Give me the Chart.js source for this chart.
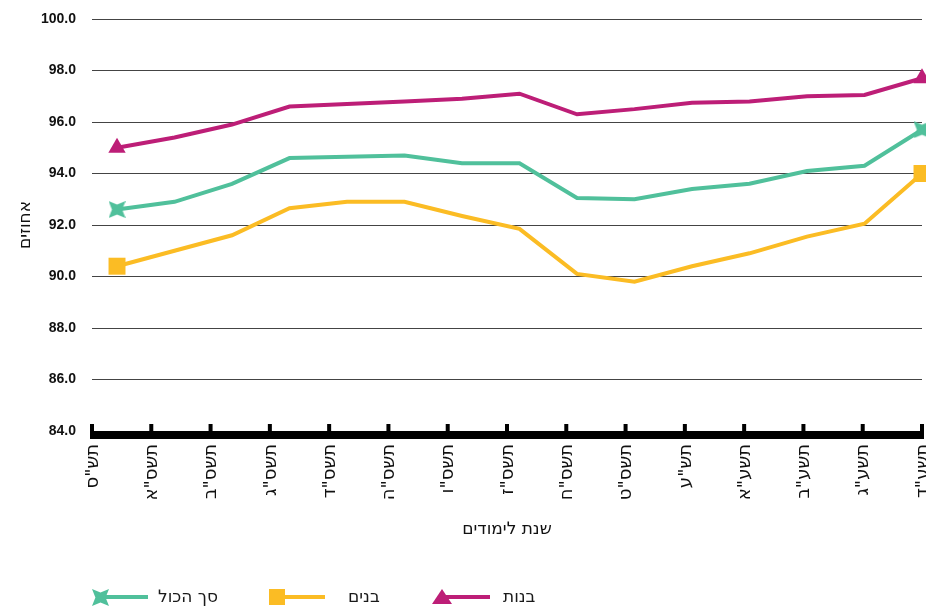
<!DOCTYPE html>
<html lang="he">
<head>
<meta charset="utf-8">
<script src="https://cdn.jsdelivr.net/npm/chart.js@4"></script>
<style>
  html, body { margin: 0; padding: 0; background: #fff; }
  #wrap { position: relative; width: 926px; height: 610px; }
  #legend { position: absolute; left: 0; top: 586px; width: 926px; height: 24px; }
  .lg-icon { position: absolute; top: 0; }
  .lg-text { position: absolute; top: 0px; font: 17px "DejaVu Sans"; color: #1a1a1a; direction: rtl; white-space: nowrap; }
</style>
</head>
<body>
<div id="wrap">
  <canvas id="myChart" width="926" height="610"></canvas>
  <div id="legend"></div>
</div>
<script>
const years = ['תש"ס', 'תשס"א', 'תשס"ב', 'תשס"ג', 'תשס"ד', 'תשס"ה', 'תשס"ו', 'תשס"ז',
               'תשס"ח', 'תשס"ט', 'תש"ע', 'תשע"א', 'תשע"ב', 'תשע"ג', 'תשע"ד'];
const girls = [95.0, 95.4, 95.9, 96.6, 96.7, 96.8, 96.9, 97.1, 96.3, 96.5, 96.75, 96.8, 97.0, 97.05, 97.7];
const total = [92.6, 92.9, 93.6, 94.6, 94.65, 94.7, 94.4, 94.4, 93.05, 93.0, 93.4, 93.6, 94.1, 94.3, 95.7];
const boys  = [90.4, 91.0, 91.6, 92.65, 92.9, 92.9, 92.35, 91.85, 90.1, 89.8, 90.4, 90.9, 91.55, 92.05, 94.0];
const seriesNames = ['בנות', 'בנים', 'סך הכול'];
const yMin = 84, yMax = 100, yStep = 2;

const PINK = '#BD1E77', YELLOW = '#FBBC24', GREEN = '#50C09B';


function makeStar(size, color) {
    const c = document.createElement('canvas');
    c.width = size; c.height = size;
    const g = c.getContext('2d');
    const h = size / 2, k = size * 0.3;
    g.fillStyle = color;
    g.beginPath();
    g.moveTo(0, 0);
    g.lineTo(h, h - k);
    g.lineTo(size, 0);
    g.lineTo(h + k, h);
    g.lineTo(size, size);
    g.lineTo(h, h + k);
    g.lineTo(0, size);
    g.lineTo(h - k, h);
    g.closePath();
    g.fill();
    return c;
}

const starImg = makeStar(17, GREEN);

function toPoints(arr) {
    return arr.map((v, i) => ({ x: i, y: v }));
}

function endMarker(r) {
    return (ctx) => (ctx.dataIndex === 0 || ctx.dataIndex === years.length - 1) ? r : 0;
}

function noPad(scale) {
    scale.paddingLeft = 0; scale.paddingRight = 0;
    scale.paddingTop = 0; scale.paddingBottom = 0;
}

const axisBar = {   // thick bottom axis with upward ticks
    id: 'axisBar',
    beforeDatasetsDraw(chart) {
        const { ctx, chartArea: { left, right, bottom }, scales: { x } } = chart;
        ctx.save();
        ctx.fillStyle = '#000';
        ctx.fillRect(left - 2, bottom, right - left + 4, 8);
        x.ticks.forEach((t, i) => {
            const px = x.getPixelForTick(i);
            ctx.fillRect(px - 2, bottom - 7, 4, 8);
        });
        ctx.restore();
    }
};

const datasets = [
    { label: seriesNames[0], data: toPoints(girls), borderColor: PINK, backgroundColor: PINK,
      pointStyle: 'triangle', pointRadius: endMarker(10) },
    { label: seriesNames[1], data: toPoints(boys), borderColor: YELLOW, backgroundColor: YELLOW,
      pointStyle: 'rect', pointRadius: endMarker(12) },
    { label: seriesNames[2], data: toPoints(total), borderColor: GREEN, backgroundColor: GREEN,
      pointStyle: starImg, pointRadius: endMarker(8) }
];
datasets.forEach(ds => {
    ds.xAxisID = 'xd';
    ds.borderWidth = 4;
    ds.tension = 0;
    ds.pointBorderWidth = 0;
    ds.clip = false;
    ds.pointHoverRadius = 0;
});

function drawChart() {
    const ctx = document.getElementById('myChart').getContext('2d');
    new Chart(ctx, {
        type: 'line',
        data: { labels: years, datasets: datasets },
        plugins: [axisBar],
        options: {
            responsive: false,
            animation: false,
            layout: { autoPadding: false, padding: { top: 19, right: 4, bottom: 70, left: 15 } },
            plugins: { legend: { display: false }, tooltip: { enabled: false } },
            scales: {
                x: {
                    type: 'category',
                    labels: years,
                    offset: false,
                    grid: { display: false, drawTicks: false },
                    border: { display: false },
                    afterFit: (scale) => { noPad(scale); scale.height = 109; },
                    ticks: {
                        autoSkip: false, minRotation: 90, maxRotation: 90, padding: 13, labelOffset: 1,
                        color: '#111', font: { family: 'DejaVu Sans', size: 18 }
                    },
                    title: {
                        display: true, text: 'שנת לימודים', color: '#111',
                        font: { family: 'DejaVu Sans', size: 17 }, padding: { top: 6, bottom: 0 }
                    }
                },
                xd: { type: 'linear', display: false, min: -0.435, max: years.length - 1, afterFit: noPad },
                y: {
                    min: yMin, max: yMax,
                    grid: { color: '#444', lineWidth: 1, drawTicks: false },
                    border: { display: false },
                    afterFit: (scale) => { noPad(scale); scale.width = 77; },
                    ticks: {
                        stepSize: yStep, padding: 16, color: '#111',
                        font: { family: 'Liberation Sans', size: 14, weight: 'bold' },
                        callback: (v) => Number(v).toFixed(1)
                    },
                    title: {
                        display: true, text: 'אחוזים', color: '#111',
                        font: { family: 'DejaVu Sans', size: 17 }, padding: { top: 0, bottom: 6 }
                    }
                }
            }
        }
    });
}


function drawLegend() {
    const legend = document.getElementById('legend');
    const iconLeft = [425, 260, 83];
    const textLeft = [503, 348, 158];
    datasets.forEach((ds, i) => {
        const c = document.createElement('canvas');
        c.width = 68; c.height = 22;
        c.className = 'lg-icon';
        c.style.left = iconLeft[i] + 'px';
        const g = c.getContext('2d');
        const mx = 17, my = 11;
        g.strokeStyle = ds.borderColor;
        g.lineWidth = 4;
        g.beginPath(); g.moveTo(mx, my); g.lineTo(65, my); g.stroke();
        g.fillStyle = ds.borderColor;
        if (ds.pointStyle === 'triangle') {
            g.beginPath(); g.moveTo(mx, my - 8); g.lineTo(mx + 10, my + 7); g.lineTo(mx - 10, my + 7); g.closePath(); g.fill();
        } else if (ds.pointStyle === 'rect') {
            g.fillRect(mx - 8, my - 8, 16, 16);
        } else {
            g.drawImage(ds.pointStyle, mx - 8, my - 8);
        }
        legend.appendChild(c);
        const s = document.createElement('span');
        s.className = 'lg-text';
        s.style.left = textLeft[i] + 'px';
        s.textContent = ds.label;
        legend.appendChild(s);
    });
}

drawChart();
drawLegend();
</script>
</body>
</html>
